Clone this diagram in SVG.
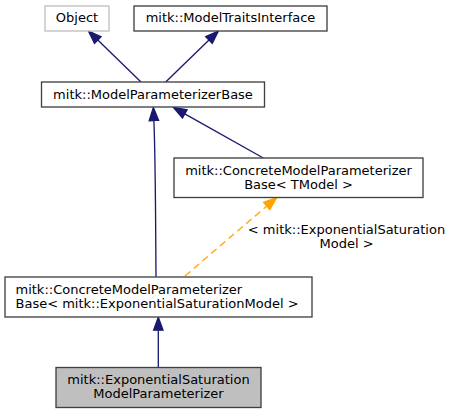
<svg xmlns="http://www.w3.org/2000/svg" width="451" height="413" viewBox="0 0 451 413">
<style>
  text { font-family: "DejaVu Sans", "Noto Sans", sans-serif; font-size: 13px; fill: #000; }
  .c { text-anchor: middle; }
  .box { fill: #ffffff; stroke: #404040; stroke-width: 1.33; }
  .ext { fill: #ffffff; stroke: #bfbfbf; stroke-width: 1.33; }
  .cur { fill: #bfbfbf; stroke: #404040; stroke-width: 1.33; }
  .e { fill: none; stroke: #191970; stroke-width: 1.33; marker-end: url(#ah); }
  .t { fill: none; stroke: #ffa500; stroke-width: 1.33; stroke-dasharray: 7,4.5; marker-end: url(#ao); }
</style>
<defs>
  <marker id="ah" markerUnits="userSpaceOnUse" markerWidth="16" markerHeight="12" viewBox="-1 -6 16 12" refX="0" refY="0" orient="auto">
    <path d="M0,-4.7 L13,0 L0,4.7 Z" fill="#191970" stroke="#191970" stroke-width="1.33"/>
  </marker>
  <marker id="ao" markerUnits="userSpaceOnUse" markerWidth="16" markerHeight="12" viewBox="-1 -6 16 12" refX="0" refY="0" orient="auto">
    <path d="M0,-4.7 L13,0 L0,4.7 Z" fill="#ffa500" stroke="#ffa500" stroke-width="1.33"/>
  </marker>
</defs>
<g id="connectors">
  <path class="e" d="M141,82 L97.8,40.1"/>
  <path class="e" d="M165.7,82 L209,40.05"/>
  <path class="e" d="M263.3,158 L184.8,113.9"/>
  <path class="e" d="M156,276.7 C155.6,220 155.5,160 153.9,120.5"/>
  <path class="t" d="M185,276 L266.8,206"/>
  <path class="e" d="M158.3,367.3 L158.3,330.2"/>
  <text class="c" x="346.5" y="234">&lt; mitk::ExponentialSaturation</text>
  <text class="c" x="346.5" y="247.5">Model &gt;</text>
</g>
<g id="node-object">
  <rect class="ext" x="45" y="6" width="64" height="25"/>
  <text class="c" x="77" y="22">Object</text>
</g>
<g id="node-modeltraits">
  <rect class="box" x="134" y="6" width="193" height="25"/>
  <text class="c" x="230.5" y="22">mitk::ModelTraitsInterface</text>
</g>
<g id="node-parambase">
  <rect class="box" x="41.5" y="82" width="223" height="25"/>
  <text class="c" x="153" y="98.5">mitk::ModelParameterizerBase</text>
</g>
<g id="node-concrete-template">
  <rect class="box" x="174" y="158" width="249" height="39.5"/>
  <text class="c" x="298.5" y="175">mitk::ConcreteModelParameterizer</text>
  <text class="c" x="298.5" y="189">Base&lt; TModel &gt;</text>
</g>
<g id="node-concrete-esm">
  <rect class="box" x="5" y="277" width="307" height="40"/>
  <text x="15.5" y="293.5">mitk::ConcreteModelParameterizer</text>
  <text x="15.5" y="307.7">Base&lt; mitk::ExponentialSaturationModel &gt;</text>
</g>
<g id="node-esmp">
  <rect class="cur" x="56" y="367.5" width="205" height="40"/>
  <text class="c" x="158.5" y="384.2">mitk::ExponentialSaturation</text>
  <text class="c" x="158.5" y="398.3">ModelParameterizer</text>
</g>
</svg>
